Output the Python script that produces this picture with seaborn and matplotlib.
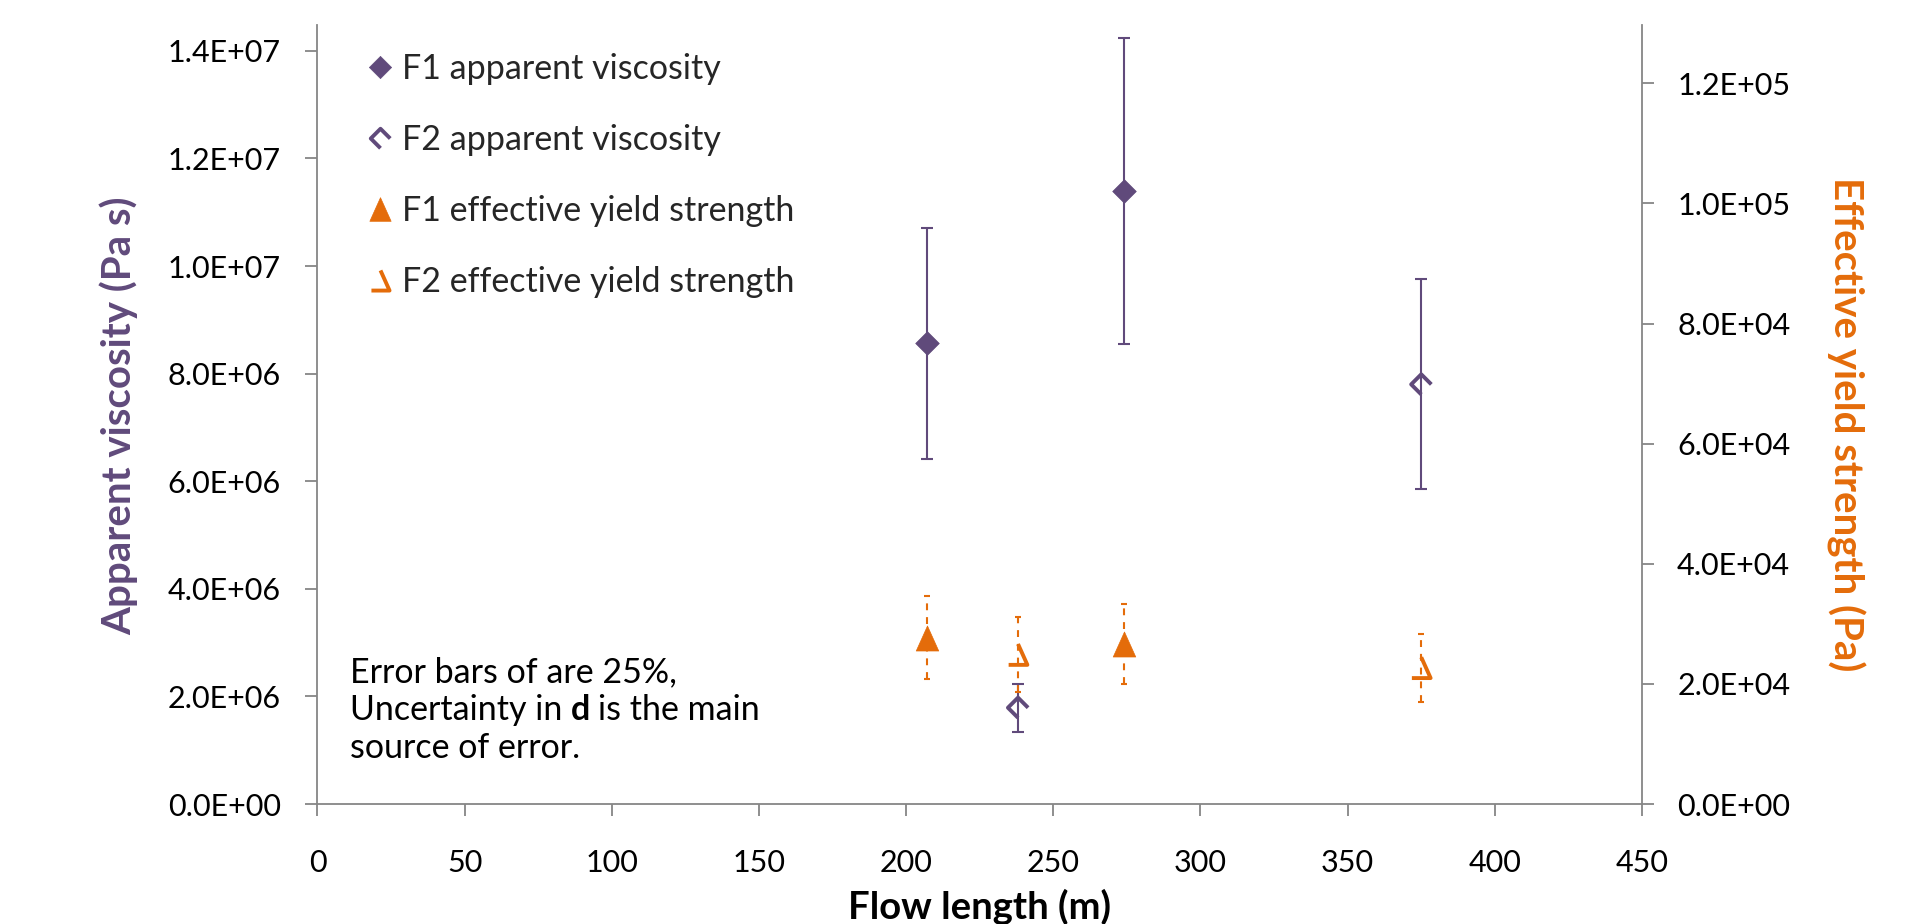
import numpy as np
import pandas as pd
import matplotlib
matplotlib.use("Agg")
import matplotlib.pyplot as plt
import seaborn as sns
from matplotlib.path import Path
from matplotlib.lines import Line2D
from matplotlib.ticker import FuncFormatter, FixedLocator

# ---------------- data ----------------
f1_length = [207, 274]
f1_viscosity = [8.56e6, 1.139e7]
f2_length = [238, 375]
f2_viscosity = [1.79e6, 7.80e6]
f1_yield = [2.77e4, 2.66e4]
f2_yield = [2.49e4, 2.27e4]
error_fraction = 0.25

x_ticks = [0, 50, 100, 150, 200, 250, 300, 350, 400, 450]
left_ticks = [0, 2e6, 4e6, 6e6, 8e6, 1e7, 1.2e7, 1.4e7]
right_ticks = [0, 2e4, 4e4, 6e4, 8e4, 1e5, 1.2e5]
legend_labels = ["F1 apparent viscosity", "F2 apparent viscosity",
                 "F1 effective yield strength", "F2 effective yield strength"]
x_label = "Flow length (m)"
left_label = "Apparent viscosity (Pa s)"
right_label = "Effective yield strength (Pa)"
note_lines = ["Error bars of are 25%,", "Uncertainty in", "d", "is the main", "source of error."]

# ---------------- style ----------------
PURPLE = "#604A7B"
ORANGE = "#E46C0A"
GRAY = "#868686"
sns.set_theme(style="white")
plt.rcParams["font.family"] = ["Lato", "DejaVu Sans"]

FS_TICK = 22
FS_TEXT = 24.5
FS_LABEL = 29

diamond = Path([(0, 1), (1, 0), (0, -1), (-1, 0), (0, 1)],
               [Path.MOVETO, Path.LINETO, Path.LINETO, Path.LINETO, Path.CLOSEPOLY])
open_diamond = Path([(1, 0), (0, 1), (-1, 0), (0, -1)])
triangle = Path([(0, 0.5), (0.45, -0.5), (-0.45, -0.5), (0, 0.5)],
                [Path.MOVETO, Path.LINETO, Path.LINETO, Path.CLOSEPOLY])
open_triangle = Path([(0, 0.5), (0.45, -0.5), (-0.45, -0.5)])

fig = plt.figure(figsize=(19.24, 9.24), dpi=100)
ax = fig.add_axes([0.16502, 0.12987, 0.68841, 0.84307])
ax2 = ax.twinx()

# error bars
err_kw = dict(fmt="none", elinewidth=1.5, capthick=1.5)
ax.errorbar(f1_length, f1_viscosity, yerr=np.array(f1_viscosity) * error_fraction,
            ecolor=PURPLE, capsize=4.3, zorder=2, **err_kw)
ax.errorbar(f2_length, f2_viscosity, yerr=np.array(f2_viscosity) * error_fraction,
            ecolor=PURPLE, capsize=4.3, zorder=2, **err_kw)
for xs, ys in [(f1_length, f1_yield), (f2_length, f2_yield)]:
    eb = ax2.errorbar(xs, ys, yerr=np.array(ys) * error_fraction,
                      ecolor=ORANGE, capsize=2.5, zorder=2, **err_kw)
    for lc in eb[2]:
        lc.set_linestyle((0, (3.3, 3.3)))

# markers
sns.scatterplot(x=f1_length, y=f1_viscosity, ax=ax, marker=diamond, s=17 ** 2,
                color=PURPLE, edgecolor=PURPLE, linewidth=0.5, zorder=3)
sns.scatterplot(x=f2_length, y=f2_viscosity, ax=ax, marker=open_diamond, s=14.5 ** 2,
                color=PURPLE, facecolor="none", edgecolor=PURPLE, linewidth=2.8, zorder=3)
sns.scatterplot(x=f1_length, y=f1_yield, ax=ax2, marker=triangle, s=18 ** 2,
                color=ORANGE, edgecolor=ORANGE, linewidth=0.5, zorder=3)
sns.scatterplot(x=f2_length, y=f2_yield, ax=ax2, marker=open_triangle, s=15 ** 2,
                color=ORANGE, facecolor="none", edgecolor=ORANGE, linewidth=2.8, zorder=3)

# axes limits and ticks
ax.set_xlim(0, 450)
ax.set_ylim(0, 1.448e7)
ax2.set_ylim(0, 1.297e5)
ax.xaxis.set_major_locator(FixedLocator(x_ticks))
ax.yaxis.set_major_locator(FixedLocator(left_ticks))
ax2.yaxis.set_major_locator(FixedLocator(right_ticks))
sci = FuncFormatter(lambda v, p: f"{v:.1E}")
ax.yaxis.set_major_formatter(sci)
ax2.yaxis.set_major_formatter(sci)
ax.xaxis.set_major_formatter(FuncFormatter(lambda v, p: f"{int(v)}"))

for a in (ax, ax2):
    for s in a.spines.values():
        s.set_visible(False)
    a.grid(False)
    a.set_facecolor("none")
ax.spines["left"].set_visible(True)
ax.spines["bottom"].set_visible(True)
ax2.spines["right"].set_visible(True)
for key, a in [("left", ax), ("bottom", ax), ("right", ax2)]:
    a.spines[key].set_color(GRAY)
    a.spines[key].set_linewidth(1.3)

ax.tick_params(axis="x", which="major", direction="out", length=8.6, width=1.3,
               color=GRAY, labelsize=FS_TICK, labelcolor="black", pad=24, bottom=True)
ax.tick_params(axis="y", which="major", direction="out", length=8.3, width=1.3,
               color=GRAY, labelsize=FS_TICK, labelcolor="black", pad=18, left=True)
ax2.tick_params(axis="y", which="major", direction="out", length=8.3, width=1.3,
                color=GRAY, labelsize=FS_TICK, labelcolor="black", pad=17, right=True)

# axis labels
fig.text(980 / 1924, 1 - 889 / 924, x_label, ha="center", va="top",
         fontsize=27.5, fontweight="bold", color="black")
fig.text(119 / 1924, 1 - 416 / 924, left_label, ha="center", va="center",
         rotation=90, fontsize=FS_LABEL, fontweight="bold", color=PURPLE)
fig.text(1846 / 1924, 1 - 424 / 924, right_label, ha="center", va="center",
         rotation=270, fontsize=FS_LABEL, fontweight="bold", color=ORANGE)

# legend
handles = [
    Line2D([], [], linestyle="none", marker=diamond, markersize=16,
           markerfacecolor=PURPLE, markeredgecolor=PURPLE, markeredgewidth=0.5),
    Line2D([], [], linestyle="none", marker=open_diamond, markersize=14,
           markerfacecolor="none", markeredgecolor=PURPLE, markeredgewidth=2.8),
    Line2D([], [], linestyle="none", marker=triangle, markersize=17,
           markerfacecolor=ORANGE, markeredgecolor=ORANGE, markeredgewidth=0.5),
    Line2D([], [], linestyle="none", marker=open_triangle, markersize=14.5,
           markerfacecolor="none", markeredgecolor=ORANGE, markeredgewidth=2.8),
]
ax2.legend(handles, legend_labels, loc="upper left",
           bbox_to_anchor=(367.8 / 1924, 1 - 53 / 924), bbox_transform=fig.transFigure,
           frameon=False, fontsize=FS_TEXT, handlelength=0.72, handletextpad=0.28,
           labelspacing=1.15, borderpad=0, borderaxespad=0)

# note
nx = 350 / 1924
fig.text(nx, 1 - 682 / 924, note_lines[0], fontsize=FS_TEXT, va="baseline", color="black")
t2 = fig.text(nx, 1 - 720 / 924, note_lines[1], fontsize=FS_TEXT, va="baseline", color="black")
t3 = ax.annotate(note_lines[2], xy=(1, 0), xycoords=t2, xytext=(6, 0),
                 textcoords="offset points", fontsize=FS_TEXT, fontweight="bold",
                 va="bottom", ha="left", color="black")
ax.annotate(note_lines[3], xy=(1, 0), xycoords=t3, xytext=(6, 0),
            textcoords="offset points", fontsize=FS_TEXT, va="bottom", ha="left", color="black")
fig.text(nx, 1 - 758 / 924, note_lines[4], fontsize=FS_TEXT, va="baseline", color="black")

fig.savefig("out.png", dpi=100, facecolor="white")
